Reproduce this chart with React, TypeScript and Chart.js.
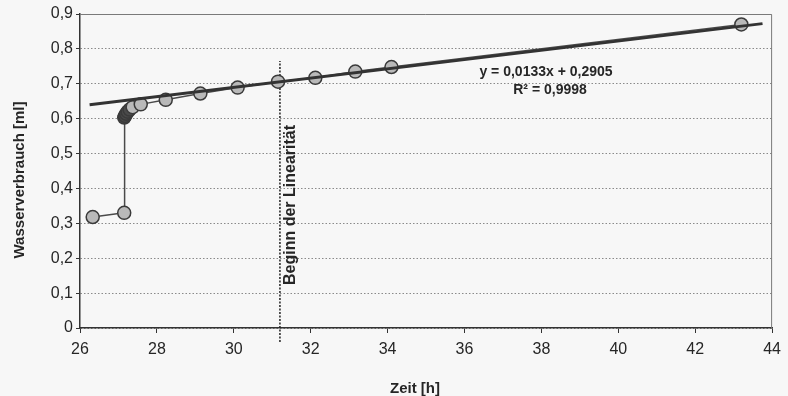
import React, { useEffect, useRef } from "react";
import { Chart, registerables } from "chart.js";

Chart.register(...registerables);

// ---- data ----
const timeH = [26.33, 27.15, 27.15, 27.17, 27.2, 27.24, 27.29, 27.37, 27.58, 28.23, 29.13, 30.1, 31.15, 32.12, 33.16, 34.1, 43.2];
const waterMl = [0.318, 0.33, 0.603, 0.608, 0.614, 0.62, 0.626, 0.633, 0.641, 0.654, 0.672, 0.689, 0.706, 0.717, 0.735, 0.748, 0.87];

const trendTimeH = [26.25, 43.75];
const trendWaterMl = [0.6396, 0.8724];

const markerTimeH = [31.2, 31.2];
const markerWaterMl = [-0.04, 0.765];

const xTickValues = [26, 28, 30, 32, 34, 36, 38, 40, 42, 44];
const yTickValues = [0, 0.1, 0.2, 0.3, 0.4, 0.5, 0.6, 0.7, 0.8, 0.9];

const xTitle = "Zeit [h]";
const yTitle = "Wasserverbrauch [ml]";
const markerLabel = "Beginn der Linearität";
const equationText = "y = 0,0133x + 0,2905";
const r2Text = "R² = 0,9998";

const FONT = "'Liberation Sans', Arial, Helvetica, sans-serif";
const TEXT = "#262626";

const fmtY = (v: number) => (v === 0 ? "0" : v.toFixed(1).replace(".", ","));

export default function App() {
  const ref = useRef<HTMLCanvasElement | null>(null);

  useEffect(() => {
    if (!ref.current) return;

    const annotations = {
      id: "annotations",
      afterDraw(chart: any) {
        const { ctx, chartArea, scales } = chart;
        ctx.save();
        // plot-area border (top and right)
        ctx.strokeStyle = "#7a7a7a";
        ctx.lineWidth = 1;
        ctx.beginPath();
        ctx.moveTo(chartArea.left, chartArea.top + 0.5);
        ctx.lineTo(chartArea.right - 0.5, chartArea.top + 0.5);
        ctx.lineTo(chartArea.right - 0.5, chartArea.bottom);
        ctx.stroke();

        ctx.fillStyle = TEXT;
        ctx.textAlign = "center";
        ctx.textBaseline = "middle";

        // y axis title
        ctx.save();
        ctx.translate(20, 180);
        ctx.rotate(-Math.PI / 2);
        ctx.font = `bold 15px ${FONT}`;
        ctx.fillText(yTitle, 0, 0);
        ctx.restore();

        // x axis title
        ctx.font = `bold 15px ${FONT}`;
        ctx.fillText(xTitle, 415, 389);

        // marker label
        const mx = scales.x.getPixelForValue(markerTimeH[0]);
        ctx.save();
        ctx.translate(mx + 11, 205);
        ctx.rotate(-Math.PI / 2);
        ctx.font = `bold 16px ${FONT}`;
        ctx.fillText(markerLabel, 0, 0);
        ctx.restore();

        // trend equation
        ctx.font = `bold 14px ${FONT}`;
        ctx.fillText(equationText, 546, 72);
        ctx.fillText(r2Text, 550, 90);
        ctx.restore();
      },
    };

    const pointFill = timeH.map((_, i) => (i >= 2 && i <= 6 ? "#4a4a4a" : "#b9b9b9"));

    const chart = new Chart(ref.current, {
      type: "scatter",
      data: {
        datasets: [
          {
            label: "Trend",
            data: trendTimeH.map((x, i) => ({ x, y: trendWaterMl[i] })),
            showLine: true,
            borderColor: "#333333",
            borderWidth: 3,
            pointRadius: 0,
            order: 0,
          },
          {
            label: "Wasserverbrauch",
            data: timeH.map((x, i) => ({ x, y: waterMl[i] })),
            showLine: true,
            borderColor: "#4a4a4a",
            borderWidth: 1.5,
            pointRadius: 6.5,
            pointBackgroundColor: pointFill,
            pointBorderColor: "#3a3a3a",
            pointBorderWidth: 1.5,
            order: 1,
          },
          {
            label: "Beginn der Linearität",
            data: markerTimeH.map((x, i) => ({ x, y: markerWaterMl[i] })),
            showLine: true,
            borderColor: "#222222",
            borderWidth: 1.5,
            borderDash: [2, 1.5],
            pointRadius: 0,
            clip: false as any,
            order: 2,
          },
        ],
      },
      options: {
        responsive: false,
        animation: false,
        layout: { padding: { left: 0, right: 10, top: 14, bottom: 0 } },
        plugins: {
          legend: { display: false },
          tooltip: { enabled: false },
        },
        scales: {
          x: {
            type: "linear",
            min: 26,
            max: 44,
            afterBuildTicks: (scale: any) => {
              scale.ticks = xTickValues.map((v) => ({ value: v }));
            },
            afterFit: (scale: any) => {
              scale.height = 68;
            },
            ticks: {
              color: TEXT,
              font: { family: FONT, size: 16 },
              padding: 7,
              maxRotation: 0,
              callback: (v: any) => String(v),
            },
            grid: {
              drawOnChartArea: false,
              drawTicks: true,
              tickLength: 5,
              tickColor: "#333",
              tickWidth: 1,
            },
            border: { display: true, color: "#333", width: 1.5 },
          },
          y: {
            min: 0,
            max: 0.9,
            afterBuildTicks: (scale: any) => {
              scale.ticks = yTickValues.map((v) => ({ value: v }));
            },
            afterFit: (scale: any) => {
              scale.width = 80;
            },
            ticks: {
              color: TEXT,
              font: { family: FONT, size: 16 },
              padding: 3,
              callback: (v: any) => fmtY(Number(v)),
            },
            grid: {
              color: "#8a8a8a",
              lineWidth: 1,
              drawTicks: true,
              tickLength: 4,
              tickColor: "#333",
              tickWidth: 1,
              tickBorderDash: [],
            } as any,
            border: { display: true, color: "#333", width: 1.5, dash: [1.5, 2] },
          },
        },
      },
      plugins: [annotations],
    } as any);

    return () => chart.destroy();
  }, []);

  return (
    <div
      style={{
        position: "fixed",
        left: 0,
        top: 0,
        width: 788,
        height: 396,
        background: "#f7f7f7",
      }}
    >
      <canvas ref={ref} width={788} height={396} />
    </div>
  );
}
